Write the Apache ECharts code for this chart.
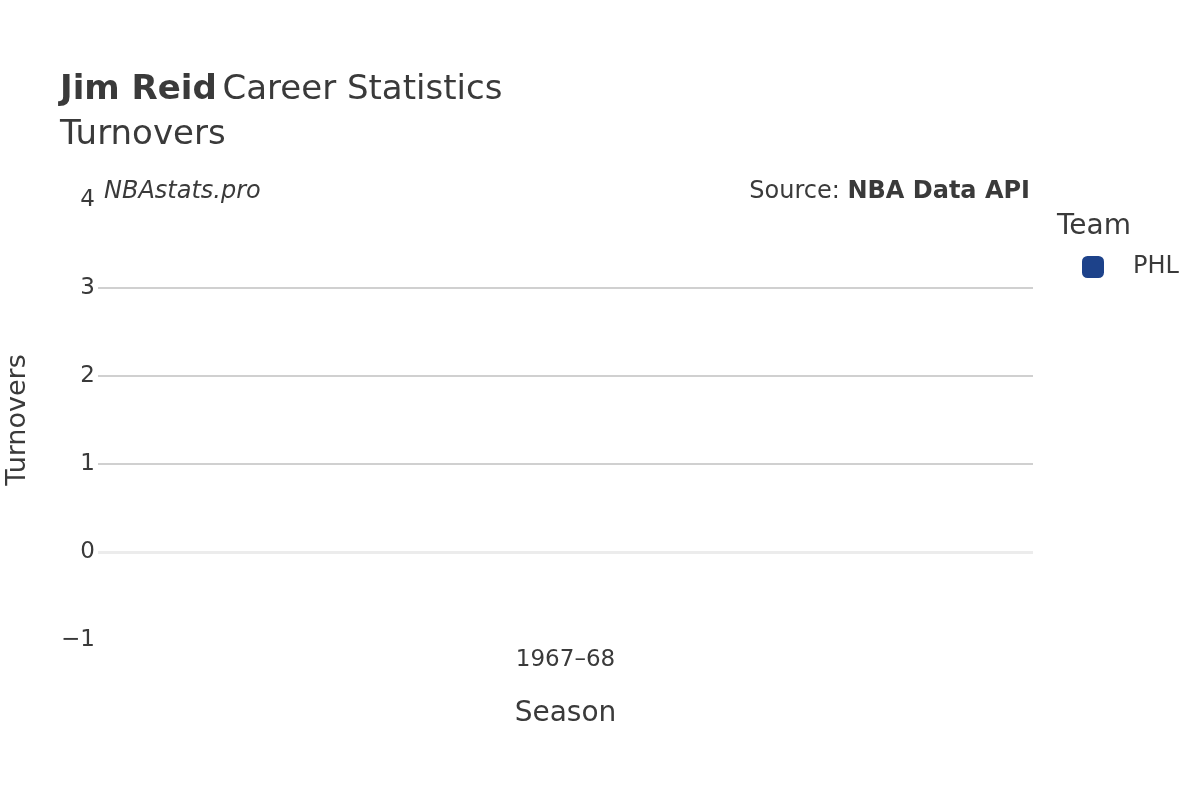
<!DOCTYPE html>
<html>
<head>
<meta charset="utf-8">
<script src="https://cdn.jsdelivr.net/npm/echarts@6/dist/echarts.min.js"></script>
<style>
  html, body { margin: 0; padding: 0; background: #fff; }
  #chart { width: 1200px; height: 800px; }
</style>
</head>
<body>
<div id="chart"></div>
<script>
// data
var seasons = ['1967–68'];
var teams = ['PHL'];
var teamColors = ['#1d428a'];
// no turnovers were recorded in that season
var phlTurnovers = [null];
var yTicks = [-1, 0, 1, 2, 3, 4];

var FONT = 'DejaVu Sans';
var TEXT = '#3a3a3a';

var chart = echarts.init(document.getElementById('chart'));

var option = {
    backgroundColor: '#fff',
    animation: false,
    textStyle: { fontFamily: FONT },
    title: {
        left: 60,
        top: 68,
        padding: 0,
        text: '{b|Jim Reid} {n|Career Statistics}\n{n|Turnovers}',
        textStyle: {
            fontWeight: 'normal',
            rich: {
                b: { fontFamily: FONT, fontSize: 34, fontWeight: 'bold', color: TEXT, lineHeight: 45 },
                n: { fontFamily: FONT, fontSize: 34, fontWeight: 'normal', color: TEXT, lineHeight: 45 }
            }
        }
    },
    legend: {
        data: teams,
        orient: 'vertical',
        left: 1077,
        top: 250,
        itemWidth: 22,
        itemHeight: 22,
        icon: 'roundRect',
        textStyle: { fontFamily: FONT, fontSize: 24, color: TEXT, padding: [0, 0, 0, 24] }
    },
    grid: {
        left: 98,
        right: 167,
        top: 200,
        bottom: 160,
        containLabel: false,
        outerBoundsMode: 'none'
    },
    xAxis: {
        type: 'category',
        data: seasons,
        name: 'Season',
        nameLocation: 'middle',
        nameGap: 60,
        nameTextStyle: { fontFamily: FONT, fontSize: 28, color: TEXT },
        axisLine: { show: false, onZero: false },
        axisTick: { show: false },
        axisLabel: { fontFamily: FONT, fontSize: 23, color: TEXT, margin: 9 },
        splitLine: { show: false }
    },
    yAxis: {
        type: 'value',
        min: yTicks[0],
        max: yTicks[yTicks.length - 1],
        interval: 1,
        name: 'Turnovers',
        nameLocation: 'middle',
        nameGap: 67,
        nameTextStyle: { fontFamily: FONT, fontSize: 27, color: TEXT },
        axisLine: { show: false },
        axisTick: { show: false },
        axisLabel: {
            fontFamily: FONT, fontSize: 23, color: TEXT, margin: 3,
            formatter: function (v) { return String(v).replace('-', '\u2212'); }
        },
        splitLine: {
            show: true,
            lineStyle: {
                color: ['rgba(0,0,0,0)', 'rgba(0,0,0,0)', '#c0c0c0', '#c0c0c0', '#c0c0c0', 'rgba(0,0,0,0)'],
                width: 1.5
            }
        }
    },
    graphic: [
        {
            type: 'text',
            left: 104,
            top: 180,
            style: { text: 'NBAstats.pro', fontFamily: FONT, fontSize: 24, fontStyle: 'italic', fill: TEXT }
        },
        {
            type: 'text',
            right: 170,
            top: 180,
            style: {
                text: '{n|Source: }{b|NBA Data API}',
                rich: {
                    n: { fontFamily: FONT, fontSize: 24, fill: TEXT },
                    b: { fontFamily: FONT, fontSize: 24, fontWeight: 'bold', fill: TEXT }
                }
            }
        },
        {
            type: 'text',
            left: 1057,
            top: 213,
            style: { text: 'Team', fontFamily: FONT, fontSize: 28, fill: TEXT }
        }
    ],
    series: [
        {
            name: teams[0],
            type: 'bar',
            data: phlTurnovers,
            itemStyle: { color: teamColors[0] },
            markLine: {
                silent: true,
                symbol: 'none',
                label: { show: false },
                lineStyle: { color: '#ececec', width: 3, type: 'solid' },
                data: [{ yAxis: 0 }]
            }
        }
    ]
};

chart.setOption(option);
</script>
</body>
</html>
